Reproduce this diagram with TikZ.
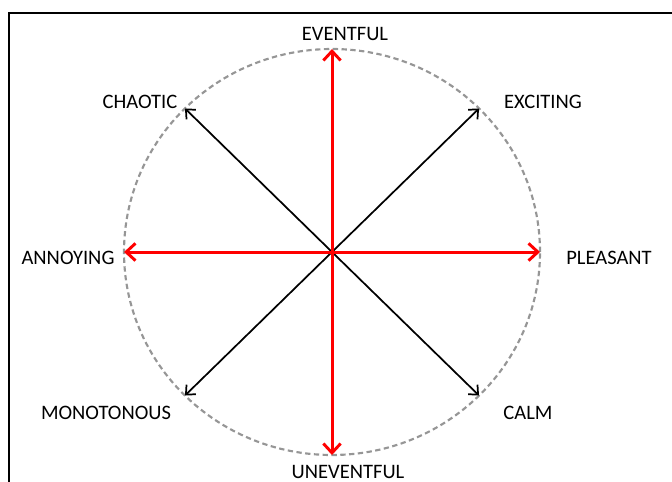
\documentclass[tikz,border=0pt]{standalone}
\usepackage{fontspec}
\setmainfont{Carlito}
\usepackage{tikz}
\usetikzlibrary{arrows.meta}
\definecolor{axisred}{HTML}{FF0000}
\definecolor{ringgray}{HTML}{969696}

\begin{document}
\begin{tikzpicture}[x=0.75pt, y=-0.75pt, every node/.style={font=\fontsize{15.4}{18}\selectfont, inner sep=0pt}]
  \tikzset{mainax/.style={draw=axisred, line width=2.25pt, -{Straight Barb[length=7pt, width=13pt, line width=2.2pt]}},
           diagax/.style={draw=black, line width=1.3pt, -{Straight Barb[length=5.5pt, width=10pt, line width=1.3pt]}},
           ring/.style={draw=ringgray, line width=1.6pt, dash pattern=on 4pt off 2.6pt}}
  \useasboundingbox (0,0) rectangle (672,482);
  \draw[line width=1.5pt] (8.5,700) -- (8.5,12.5) -- (700,12.5);
  % circle of eight directions
  \coordinate (o) at (332,252);
  \draw[ring] (o) ellipse [x radius=156pt, y radius=152.25pt];
  \coordinate (n)  at (332,49);
  \coordinate (s)  at (332,455);
  \coordinate (w)  at (124,252);
  \coordinate (e)  at (540,252);
  \coordinate (ne) at (479,108.5);
  \coordinate (nw) at (185,108.5);
  \coordinate (se) at (479,395.5);
  \coordinate (sw) at (185,395.5);
  \draw[diagax] (o) -- (ne);
  \draw[diagax] (o) -- (nw);
  \draw[diagax] (o) -- (se);
  \draw[diagax] (o) -- (sw);
  \draw[mainax] (o) -- (n);
  \draw[mainax] (o) -- (s);
  \draw[mainax] (o) -- (w);
  \draw[mainax] (o) -- (e);
  % labels
  \node (eventful)   at (345,34)  {EVENTFUL};
  \node (uneventful) at (348,472) {UNEVENTFUL};
  \node (chaotic)    at (140,102) {CHAOTIC};
  \node (exciting)   at (543,102) {EXCITING};
  \node (annoying)   at (68,258)  {ANNOYING};
  \node (pleasant)   at (609,258) {PLEASANT};
  \node (monotonous) at (106,413) {MONOTONOUS};
  \node (calm)       at (528,413) {CALM};
\end{tikzpicture}
\end{document}
